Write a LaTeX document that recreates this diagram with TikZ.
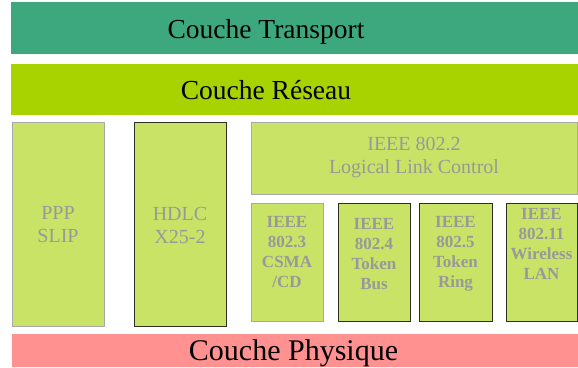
\documentclass[tikz,border=0pt]{standalone}
\usepackage{fontspec}
\setmainfont{Liberation Serif}
\newfontfamily\timesfont{Liberation Serif}
\definecolor{transport}{HTML}{3DA87D}
\definecolor{reseau}{HTML}{A8D300}
\definecolor{physique}{HTML}{FF9191}
\definecolor{protofill}{HTML}{C8E366}
\definecolor{prototext}{HTML}{999999}
\definecolor{lightedge}{HTML}{A8A8A8}
\definecolor{darkedge}{HTML}{2E2E22}
\tikzset{
  layertext/.style={inner sep=0pt, anchor=base, text=black, font=\timesfont\fontsize{27.5}{30}\selectfont},
  protoname/.style={inner sep=0pt, align=center, text=prototext, font=\timesfont\fontsize{20}{23}\selectfont},
  macname/.style={inner sep=0pt, align=center, text=prototext, font=\timesfont\bfseries\fontsize{17}{20}\selectfont},
  lightbox/.style={fill=protofill, draw=lightedge, line width=1pt},
  darkbox/.style={fill=protofill, draw=darkedge, line width=1pt},
}
\begin{document}
\begin{tikzpicture}[x=1pt, y=-1pt]
\useasboundingbox (0,0) rectangle (578,367);

% layer bars
\fill[transport] (11,2) rectangle (578,54);
\fill[reseau] (11,64) rectangle (578,115);
\fill[physique] (12,334) rectangle (578,367);
\node[layertext] (transport) at (266,38) {Couche Transport};
\node[layertext] (reseau) at (266,99) {Couche Réseau};
\node[layertext, font=\timesfont\fontsize{30}{32}\selectfont] (physique) at (293.5,360) {Couche Physique};

% point-to-point link protocols
\draw[lightbox] (12,122) rectangle (104,326);
\node[protoname] (ppp) at (58,225) {PPP\\SLIP};
\draw[darkbox] (134,122) rectangle (226,326);
\node[protoname] (hdlc) at (180,225) {HDLC\\X25-2};

% LAN sublayers
\draw[lightbox] (251,122) rectangle (577,194);
\node[protoname] (llc) at (414,158) {IEEE 802.2\\Logical Link Control};
\draw[lightbox] (251,203) rectangle (323,321);
\node[macname] (csma) at (287,252) {IEEE\\802.3\\CSMA\\/CD};
\draw[darkbox] (338,203) rectangle (410,321);
\node[macname] (tbus) at (374,254) {IEEE\\802.4\\Token\\Bus};
\draw[darkbox] (419,203) rectangle (492,321);
\node[macname] (tring) at (455.5,254) {IEEE\\802.5\\Token\\Ring};
\draw[darkbox] (506,203) rectangle (577,321);
\node[macname] (wlan) at (541.5,244) {IEEE\\802.11\\Wireless\\LAN};
\end{tikzpicture}
\end{document}
